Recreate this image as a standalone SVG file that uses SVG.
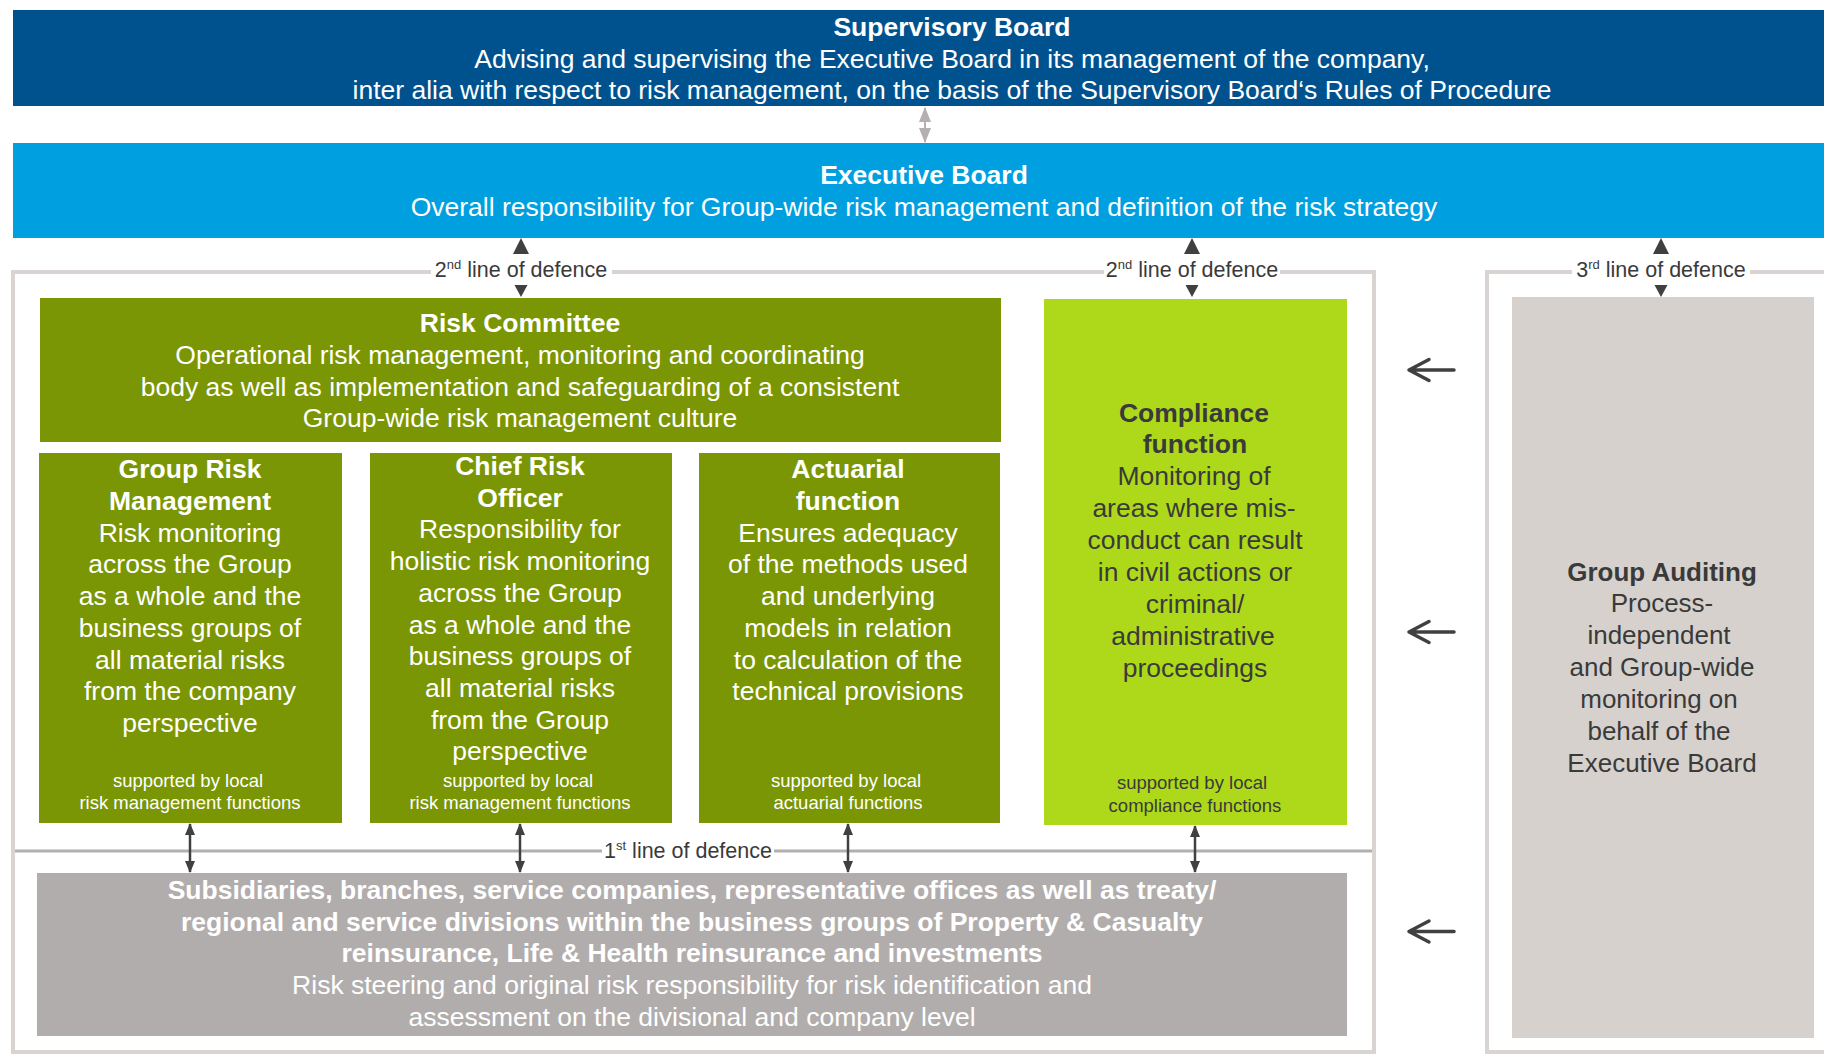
<svg xmlns="http://www.w3.org/2000/svg" width="1824" height="1054" viewBox="0 0 1824 1054">
  <defs>
    <style>
      text { font-family: "Liberation Sans", Arial, sans-serif; text-anchor: middle; }
      .t { font-size: 26.5px; fill: #ffffff; }
      .b { font-weight: bold; }
      .dk { fill: #3a3a3a; }
      .ga { font-size: 26px; }
      .sm { font-size: 18.5px; }
      .lbl { font-size: 21.5px; fill: #3a3a3a; }
      .frame { fill: none; stroke: #d9d4d1; stroke-width: 4; }
      .line1 { fill: none; stroke: #b3afaf; stroke-width: 3; }
      .conn { stroke: #404040; stroke-width: 2.5; fill: none; }
      .tri { fill: #404040; }
      .back { stroke: #404040; stroke-width: 3.5; fill: none; stroke-linecap: round; stroke-linejoin: round; }
    </style>
    <marker id="ah" viewBox="0 0 12 10" refX="11" refY="5" markerWidth="12" markerHeight="10" markerUnits="userSpaceOnUse" orient="auto-start-reverse">
      <path d="M0,0 L12,5 L0,10 Z" fill="#404040"/>
    </marker>
    <marker id="ahg" viewBox="0 0 15 12" refX="14" refY="6" markerWidth="15" markerHeight="12" markerUnits="userSpaceOnUse" orient="auto-start-reverse">
      <path d="M0,0 L15,6 L0,12 Z" fill="#b5b0b0"/>
    </marker>
  </defs>

  <!-- outline frames for the defence lines -->
  <g id="frames">
    <path class="frame" d="M431,272 H13 V1052 H1374 V272 H1280"/>
    <path class="frame" d="M612,272 H1104"/>
    <path class="frame" d="M1572,272 H1487 V1052 H1824"/>
    <path class="frame" d="M1750,272 H1824"/>
    <path class="line1" d="M15,851 H602"/>
    <path class="line1" d="M774,851 H1372"/>
  </g>

  <g id="supervisory-board">
    <rect x="13" y="10" width="1811" height="96" fill="#00528f"/>
    <text class="t b" x="952" y="36">Supervisory Board</text>
    <text class="t" x="952" y="67.5">Advising and supervising the Executive Board in its management of the company,</text>
    <text class="t" x="952" y="99">inter alia with respect to risk management, on the basis of the Supervisory Board‘s Rules of Procedure</text>
  </g>

  <g id="executive-board">
    <rect x="13" y="143" width="1811" height="95" fill="#009fdf"/>
    <text class="t b" x="924" y="184">Executive Board</text>
    <text class="t" x="924" y="216">Overall responsibility for Group-wide risk management and definition of the risk strategy</text>
  </g>

  <g id="risk-committee">
    <rect x="40" y="298" width="961" height="144" fill="#7a9604"/>
    <text class="t b" x="520" y="332">Risk Committee</text>
    <text class="t" x="520" y="363.5">Operational risk management, monitoring and coordinating</text>
    <text class="t" x="520" y="395.5">body as well as implementation and safeguarding of a consistent</text>
    <text class="t" x="520" y="427">Group-wide risk management culture</text>
  </g>

  <g id="group-risk-management">
    <rect x="39" y="453" width="303" height="370" fill="#7a9604"/>
    <text class="t b" x="190" y="478.3">Group Risk</text>
    <text class="t b" x="190" y="510">Management</text>
    <text class="t" x="190" y="541.7">Risk monitoring</text>
    <text class="t" x="190" y="573.4">across the Group</text>
    <text class="t" x="190" y="605.1">as a whole and the</text>
    <text class="t" x="190" y="636.8">business groups of</text>
    <text class="t" x="190" y="668.5">all material risks</text>
    <text class="t" x="190" y="700.2">from the company</text>
    <text class="t" x="190" y="731.9">perspective</text>
    <text class="t sm" x="188" y="787.3">supported by local</text>
    <text class="t sm" x="190" y="809.3">risk management functions</text>
  </g>

  <g id="chief-risk-officer">
    <rect x="370" y="453" width="302" height="370" fill="#7a9604"/>
    <text class="t b" x="520" y="475">Chief Risk</text>
    <text class="t b" x="520" y="506.7">Officer</text>
    <text class="t" x="520" y="538.4">Responsibility for</text>
    <text class="t" x="520" y="570.1">holistic risk monitoring</text>
    <text class="t" x="520" y="601.8">across the Group</text>
    <text class="t" x="520" y="633.5">as a whole and the</text>
    <text class="t" x="520" y="665.2">business groups of</text>
    <text class="t" x="520" y="696.9">all material risks</text>
    <text class="t" x="520" y="728.6">from the Group</text>
    <text class="t" x="520" y="760.3">perspective</text>
    <text class="t sm" x="518" y="787.3">supported by local</text>
    <text class="t sm" x="520" y="809.3">risk management functions</text>
  </g>

  <g id="actuarial-function">
    <rect x="699" y="453" width="301" height="370" fill="#7a9604"/>
    <text class="t b" x="848" y="478.3">Actuarial</text>
    <text class="t b" x="848" y="510">function</text>
    <text class="t" x="848" y="541.7">Ensures adequacy</text>
    <text class="t" x="848" y="573.4">of the methods used</text>
    <text class="t" x="848" y="605.1">and underlying</text>
    <text class="t" x="848" y="636.8">models in relation</text>
    <text class="t" x="848" y="668.5">to calculation of the</text>
    <text class="t" x="848" y="700.2">technical provisions</text>
    <text class="t sm" x="846" y="787.3">supported by local</text>
    <text class="t sm" x="848" y="809.3">actuarial functions</text>
  </g>

  <g id="compliance-function">
    <rect x="1044" y="299" width="303" height="526" fill="#aed91b"/>
    <text class="t b dk" x="1194" y="421.7">Compliance</text>
    <text class="t b dk" x="1195" y="453.3">function</text>
    <text class="t dk" x="1194" y="485">Monitoring of</text>
    <text class="t dk" x="1194" y="517">areas where mis-</text>
    <text class="t dk" x="1195" y="549">conduct can result</text>
    <text class="t dk" x="1195" y="580.7">in civil actions or</text>
    <text class="t dk" x="1195" y="612.7">criminal/</text>
    <text class="t dk" x="1193" y="644.7">administrative</text>
    <text class="t dk" x="1195" y="676.7">proceedings</text>
    <text class="t sm dk" x="1192" y="789.3">supported by local</text>
    <text class="t sm dk" x="1195" y="811.7">compliance functions</text>
  </g>

  <g id="group-auditing">
    <rect x="1512" y="297" width="302" height="741" fill="#d6d1cd"/>
    <text class="t ga b dk" x="1662" y="580.7">Group Auditing</text>
    <text class="t ga dk" x="1662" y="612">Process-</text>
    <text class="t ga dk" x="1659" y="644">independent</text>
    <text class="t ga dk" x="1662" y="676">and Group-wide</text>
    <text class="t ga dk" x="1659" y="708">monitoring on</text>
    <text class="t ga dk" x="1659" y="740">behalf of the</text>
    <text class="t ga dk" x="1662" y="772">Executive Board</text>
  </g>

  <g id="subsidiaries">
    <rect x="37" y="873" width="1310" height="163" fill="#b2adad"/>
    <text class="t b" x="692" y="899">Subsidiaries, branches, service companies, representative offices as well as treaty/</text>
    <text class="t b" x="692" y="930.5">regional and service divisions within the business groups of Property &amp; Casualty</text>
    <text class="t b" x="692" y="962">reinsurance, Life &amp; Health reinsurance and investments</text>
    <text class="t" x="692" y="993.5">Risk steering and original risk responsibility for risk identification and</text>
    <text class="t" x="692" y="1025.5">assessment on the divisional and company level</text>
  </g>

  <!-- line-of-defence labels -->
  <g id="labels">
    <text class="lbl" x="521" y="276.5">2<tspan font-size="13" dy="-8">nd</tspan><tspan dy="8"> line of defence</tspan></text>
    <text class="lbl" x="1192" y="276.5">2<tspan font-size="13" dy="-8">nd</tspan><tspan dy="8"> line of defence</tspan></text>
    <text class="lbl" x="1661" y="276.5">3<tspan font-size="13" dy="-8">rd</tspan><tspan dy="8"> line of defence</tspan></text>
    <text class="lbl" x="688" y="857.5">1<tspan font-size="13" dy="-8">st</tspan><tspan dy="8"> line of defence</tspan></text>
  </g>

  <g id="connectors">
    <!-- board to board -->
    <line x1="925" y1="108" x2="925" y2="142" stroke="#b5b0b0" stroke-width="2" marker-start="url(#ahg)" marker-end="url(#ahg)"/>
    <!-- second and third line of defence links -->
    <path class="tri" d="M521,238 L529,254 L513,254 Z"/>
    <path class="tri" d="M514.5,285 L527.5,285 L521,297 Z"/>
    <path class="tri" d="M1192,238 L1200,254 L1184,254 Z"/>
    <path class="tri" d="M1185.5,285 L1198.5,285 L1192,297 Z"/>
    <path class="tri" d="M1661,238 L1669,254 L1653,254 Z"/>
    <path class="tri" d="M1654.5,285 L1667.5,285 L1661,297 Z"/>
    <!-- first line of defence links -->
    <line class="conn" x1="190" y1="824" x2="190" y2="872" marker-start="url(#ah)" marker-end="url(#ah)"/>
    <line class="conn" x1="520" y1="824" x2="520" y2="872" marker-start="url(#ah)" marker-end="url(#ah)"/>
    <line class="conn" x1="848" y1="824" x2="848" y2="872" marker-start="url(#ah)" marker-end="url(#ah)"/>
    <line class="conn" x1="1195" y1="826" x2="1195" y2="872" marker-start="url(#ah)" marker-end="url(#ah)"/>
    <!-- audit arrows -->
    <path class="back" d="M1454,370 H1409 M1429,359.5 L1409,370 L1429,380.5"/>
    <path class="back" d="M1454,632 H1409 M1429,621.5 L1409,632 L1429,642.5"/>
    <path class="back" d="M1454,931.5 H1409 M1429,921 L1409,931.5 L1429,942"/>
  </g>
</svg>
